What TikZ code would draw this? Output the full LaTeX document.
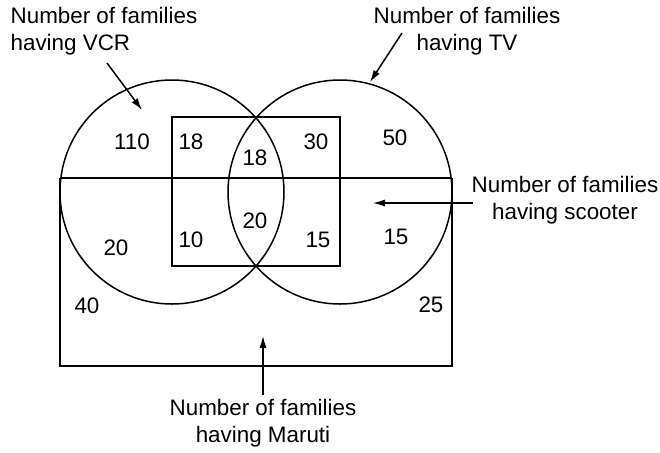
\documentclass[tikz,border=0pt]{standalone}
\usepackage{fontspec}
\setmainfont{Liberation Sans}
\usetikzlibrary{arrows.meta,positioning}
\tikzset{
  kor/.style={circle,draw,minimum size=112pt,inner sep=0pt,outer sep=0pt},
  nyil/.style={-{Latex[length=6pt,width=3.6pt]}},
  szam/.style={inner sep=0pt},
  felirat/.style={inner sep=0pt,align=center},
}
\begin{document}
\begin{tikzpicture}[x=0.5pt,y=-0.5pt,line width=0.75pt,
  font=\fontsize{11.2}{13.5}\selectfont]
  \useasboundingbox (0,0) rectangle (660,452);
  % the two sets
  \node[kor] (vcr) at (172,192) {};
  \node[kor] (tv) at (340,192) {};
  % scooter square and Maruti box
  \draw (172,117) rectangle (340,266);
  \draw (60,178) -- (452,178);
  \draw (60,178) -- (60,366) -- (452,366) -- (452,178);
  % region counts
  \node[szam] (a1) at (132,142) {110};
  \node[szam] (a2) at (191,142) {18};
  \node[szam] (a3) at (255,158) {18};
  \node[szam] (a4) at (316,142) {30};
  \node[szam] (a5) at (395,138) {50};
  \node[szam] (b1) at (116,248) {20};
  \node[szam] (b2) at (191,240) {10};
  \node[szam] (b3) at (255,221) {20};
  \node[szam] (b4) at (318,240) {15};
  \node[szam] (b5) at (396,237) {15};
  \node[szam] (c1) at (87,306) {40};
  \node[szam] (c2) at (431,305) {25};
  % labels
  \node[felirat,align=left] (lvcr) at (104,31) {Number of families\\having VCR};
  \node[felirat] (ltv) at (467,31) {Number of families\\having TV};
  \node[felirat] (lsc) at (565,200) {Number of families\\having scooter};
  \node[felirat] (lmar) at (263,423) {Number of families\\having Maruti};
  % arrows
  \coordinate (p1) at (107,63);  \coordinate (q1) at (142,110);
  \coordinate (p2) at (402,33);  \coordinate (q2) at (370,82);
  \coordinate (p3) at (473,203); \coordinate (q3) at (373,203);
  \coordinate (p4) at (263,395); \coordinate (q4) at (263,336);
  \draw[nyil] (p1) -- (q1);
  \draw[nyil] (p2) -- (q2);
  \draw[nyil] (p3) -- (q3);
  \draw[nyil] (p4) -- (q4);
\end{tikzpicture}
\end{document}
